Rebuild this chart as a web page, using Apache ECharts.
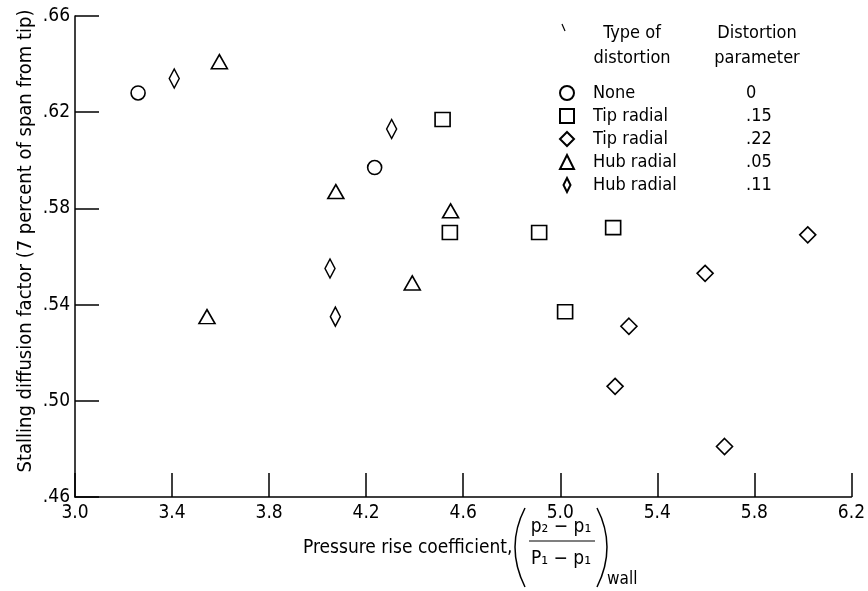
<!DOCTYPE html>
<html>
<head>
<meta charset="utf-8">
<title>Stalling diffusion factor</title>
<script src="https://cdn.jsdelivr.net/npm/echarts@6/dist/echarts.min.js"></script>
<style>
  html, body { margin: 0; padding: 0; background: #fff; }
  #chart { width: 868px; height: 591px; }
</style>
</head>
<body>
<div id="chart"></div>
<script>
// data: [pressure rise coefficient, stalling diffusion factor]
const noneData = [[3.26, 0.628], [4.235, 0.597]];
const tip15Data = [[4.515, 0.617], [4.545, 0.570], [4.913, 0.570], [5.218, 0.572], [5.02, 0.537]];
const tip22Data = [[6.02, 0.569], [5.597, 0.553], [5.283, 0.531], [5.226, 0.506], [5.677, 0.481]];
const hub05Data = [[3.595, 0.641], [3.544, 0.535], [4.075, 0.587], [4.548, 0.579], [4.39, 0.549]];
const hub11Data = [[3.409, 0.634], [4.305, 0.613], [4.051, 0.555], [4.073, 0.535]];

const distTypes = ['None', 'Tip radial', 'Tip radial', 'Hub radial', 'Hub radial'];
const distParams = ['0', '.15', '.22', '.05', '.11'];
const seriesNames = ['None 0', 'Tip radial .15', 'Tip radial .22', 'Hub radial .05', 'Hub radial .11'];

const xTicks = [3.0, 3.4, 3.8, 4.2, 4.6, 5.0, 5.4, 5.8, 6.2];
const yTicks = [0.46, 0.50, 0.54, 0.58, 0.62, 0.66];

const FONT = "'DejaVu Sans Condensed', 'Liberation Sans Narrow', sans-serif";
const narrowDiamond = 'path://M5,0L10,10L5,20L0,10Z';

const chart = echarts.init(document.getElementById('chart'));

function pointSeries(i, data, symbol, size) {
  return {
    name: seriesNames[i],
    type: 'scatter',
    data: data,
    symbol: symbol,
    symbolSize: size,
    itemStyle: { color: '#fff', borderColor: '#000', borderWidth: 1.6, opacity: 1 },
    emphasis: { disabled: true }
  };
}

function label(text, x, y, size, align) {
  return {
    type: 'text', x: x, y: y,
    style: { text: text, font: size + 'px ' + FONT, fill: '#000', align: align || 'center', verticalAlign: 'middle' }
  };
}

chart.setOption({
  animation: false,
  backgroundColor: '#fff',
  textStyle: { fontFamily: FONT, color: '#000' },
  grid: { left: 75, top: 16, right: 16, bottom: 94 },
  xAxis: {
    type: 'value',
    min: 3.0,
    max: 6.2,
    axisLine: { onZero: false, lineStyle: { color: '#000', width: 1.5 } },
    axisTick: { inside: true, length: 24, customValues: xTicks, lineStyle: { color: '#000', width: 1.5 } },
    axisLabel: {
      customValues: xTicks, margin: 7, fontSize: 19, color: '#000', fontFamily: FONT,
      formatter: v => v.toFixed(1)
    },
    splitLine: { show: false }
  },
  yAxis: {
    type: 'value',
    min: 0.46,
    max: 0.66,
    axisLine: { onZero: false, lineStyle: { color: '#000', width: 1.5 } },
    axisTick: { inside: true, length: 24, customValues: yTicks, lineStyle: { color: '#000', width: 1.5 } },
    axisLabel: {
      customValues: yTicks, margin: 5, fontSize: 19, color: '#000', fontFamily: FONT,
      formatter: v => v.toFixed(2).replace(/^0/, '')
    },
    splitLine: { show: false }
  },
  legend: {
    orient: 'vertical',
    left: 554,
    top: 79,
    itemWidth: 14,
    itemHeight: 14,
    itemGap: 5,
    selectedMode: false,
    data: seriesNames,
    formatter: name => {
      const i = seriesNames.indexOf(name);
      return '{t|' + distTypes[i] + '}{p|' + distParams[i] + '}';
    },
    textStyle: {
      padding: [0, 0, 0, 14],
      rich: {
        t: { fontSize: 18, fontFamily: FONT, color: '#000', width: 153, lineHeight: 16 },
        p: { fontSize: 18, fontFamily: FONT, color: '#000', lineHeight: 16 }
      }
    }
  },
  graphic: [
    label('Type of', 632, 33, 18),
    label('distortion', 632, 58, 18),
    label('Distortion', 757, 33, 18),
    label('parameter', 757, 58, 18),
    { type: 'line', shape: { x1: 562, y1: 24, x2: 565, y2: 31 }, style: { stroke: '#000', lineWidth: 1.2 } },
    // y axis title
    { type: 'text', x: 26, y: 241, rotation: Math.PI / 2,
      style: { text: 'Stalling diffusion factor (7 percent of span from tip)', font: '20px ' + FONT, fill: '#000', align: 'center', verticalAlign: 'middle' } },
    // x axis title with the pressure ratio
    label('Pressure rise coefficient,', 303, 548, 19, 'left'),
    { type: 'bezierCurve', shape: { x1: 525, y1: 508, x2: 525, y2: 587, cpx1: 505, cpy1: 547 }, style: { stroke: '#000', lineWidth: 1.5, fill: null } },
    { type: 'bezierCurve', shape: { x1: 597, y1: 508, x2: 597, y2: 587, cpx1: 617, cpy1: 547 }, style: { stroke: '#000', lineWidth: 1.5, fill: null } },
    label('p\u2082 \u2212 p\u2081', 561, 527, 19),
    { type: 'line', shape: { x1: 529, y1: 541, x2: 595, y2: 541 }, style: { stroke: '#000', lineWidth: 1.2 } },
    label('P\u2081 \u2212 p\u2081', 561, 559, 19),
    label('wall', 607, 580, 17, 'left')
  ],
  series: [
    pointSeries(0, noneData, 'circle', 14),
    pointSeries(1, tip15Data, 'rect', [15, 14]),
    pointSeries(2, tip22Data, 'diamond', 16),
    pointSeries(3, hub05Data, 'triangle', [16, 14]),
    pointSeries(4, hub11Data, narrowDiamond, [10, 19])
  ]
});
</script>
</body>
</html>
